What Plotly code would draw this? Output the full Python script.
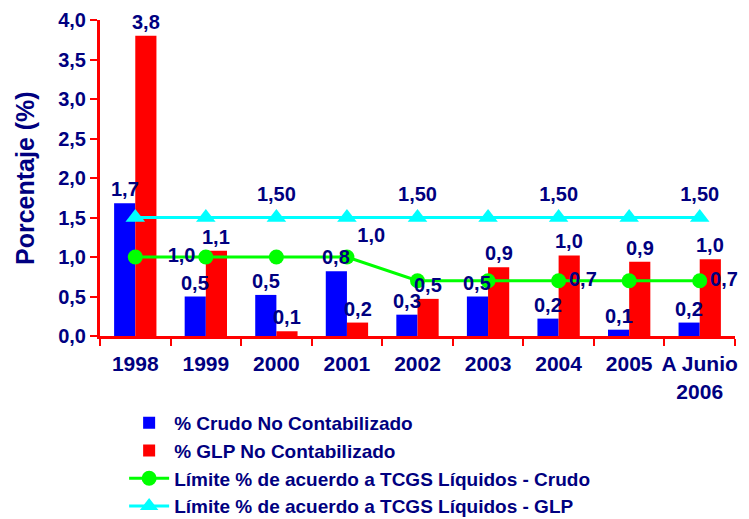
import plotly.graph_objects as go

categories = ["1998", "1999", "2000", "2001", "2002", "2003", "2004", "2005", "A Junio<br>2006"]
crudo = [1.68, 0.50, 0.52, 0.82, 0.27, 0.50, 0.22, 0.08, 0.17]
glp = [3.80, 1.08, 0.06, 0.17, 0.47, 0.87, 1.02, 0.94, 0.97]
limite_crudo = [1.0, 1.0, 1.0, 1.0, 0.7, 0.7, 0.7, 0.7, 0.7]
limite_glp = [1.5, 1.5, 1.5, 1.5, 1.5, 1.5, 1.5, 1.5, 1.5]
crudo_lim_labels = ["", "1,0", "", "1,0", "", "", "0,7", "", "0,7"]
glp_lim_labels = ["", "", "1,50", "", "1,50", "", "1,50", "", "1,50"]

NAVY = "#000080"
FONT = "Liberation Sans"


def fmt(v):
    return f"{v:.1f}".replace(".", ",")


label_font = dict(family=FONT, size=20, color=NAVY, weight="bold")

fig = go.Figure()
fig.add_trace(go.Bar(
    x=categories, y=crudo, name="% Crudo No Contabilizado",
    marker=dict(color="#0000FF", line=dict(width=0)),
))
fig.add_trace(go.Bar(
    x=categories, y=glp, name="% GLP No Contabilizado",
    marker=dict(color="#FF0000", line=dict(width=0)),
))
fig.add_trace(go.Scatter(
    x=categories, y=limite_crudo, name="Límite % de acuerdo a TCGS Líquidos - Crudo",
    mode="lines+markers+text",
    line=dict(color="#00FF00", width=3),
    marker=dict(color="#00FF00", size=15, symbol="circle"),
    text=crudo_lim_labels,
    textposition=["middle left", "middle left", "middle left", "top right", "middle right",
                  "middle right", "middle right", "middle right", "middle right"],
    textfont=label_font, cliponaxis=False,
))
fig.add_trace(go.Scatter(
    x=categories, y=limite_glp, name="Límite % de acuerdo a TCGS Líquidos - GLP",
    mode="lines+markers+text",
    line=dict(color="#00FFFF", width=3),
    marker=dict(color="#00FFFF", size=17, symbol="triangle-up"),
    text=glp_lim_labels, textposition="top center",
    textfont=label_font, cliponaxis=False,
))

# bar value labels as annotations so they sit above the limit lines
PLOT_W = 749 - 100 - 14
half_bar = PLOT_W / len(categories) * 0.6 / 4
annotations = []
for i, (vc, vg) in enumerate(zip(crudo, glp)):
    annotations.append(dict(x=i, y=vc, text=fmt(vc), showarrow=False, xshift=-half_bar,
                            yanchor="bottom", xanchor="center", yshift=1, font=label_font))
    annotations.append(dict(x=i, y=vg, text=fmt(vg), showarrow=False, xshift=half_bar,
                            yanchor="bottom", xanchor="center", yshift=1, font=label_font))
annotations.append(dict(
    text="Porcentaje (%)", textangle=-90, showarrow=False,
    xref="paper", yref="paper", x=0, y=0.5, xanchor="center", yanchor="middle",
    xshift=-75, font=dict(family=FONT, size=25, color=NAVY, weight="bold"),
))

fig.update_layout(
    width=749, height=519,
    margin=dict(l=100, r=14, t=20, b=183, autoexpand=False),
    paper_bgcolor="white", plot_bgcolor="white",
    barmode="group", bargap=0.4, bargroupgap=0,
    separators=",.",
    font=dict(family=FONT, color=NAVY, weight="bold"),
    showlegend=True,
    legend=dict(
        orientation="v", x=0.038, y=-0.215, xanchor="left", yanchor="top",
        font=dict(family=FONT, size=19, color=NAVY, weight="bold"),
        tracegroupgap=0, itemwidth=40, bgcolor="rgba(0,0,0,0)",
    ),
    xaxis=dict(
        range=[-0.5, len(categories) - 0.5],
        showline=True, linecolor="#FF0000", linewidth=3,
        ticks="outside", tickcolor="#FF0000", tickwidth=2, ticklen=7,
        tickson="boundaries", showgrid=False, tickangle=0, automargin=False,
        ticklabelstandoff=7,
        tickfont=dict(family=FONT, size=21, color=NAVY, weight="bold"),
    ),
    yaxis=dict(
        range=[0, 4], dtick=0.5, tickformat=".1f", automargin=False,
        showline=True, linecolor="#FF0000", linewidth=3,
        ticks="outside", tickcolor="#FF0000", tickwidth=2, ticklen=7,
        showgrid=False, zeroline=False,
        tickfont=dict(family=FONT, size=20, color=NAVY, weight="bold"),
    ),
    annotations=annotations,
)

fig.write_html(
    "out.html",
    config={"displayModeBar": False},
    post_script="document.body.style.margin='0';document.body.style.overflow='hidden';",
)
